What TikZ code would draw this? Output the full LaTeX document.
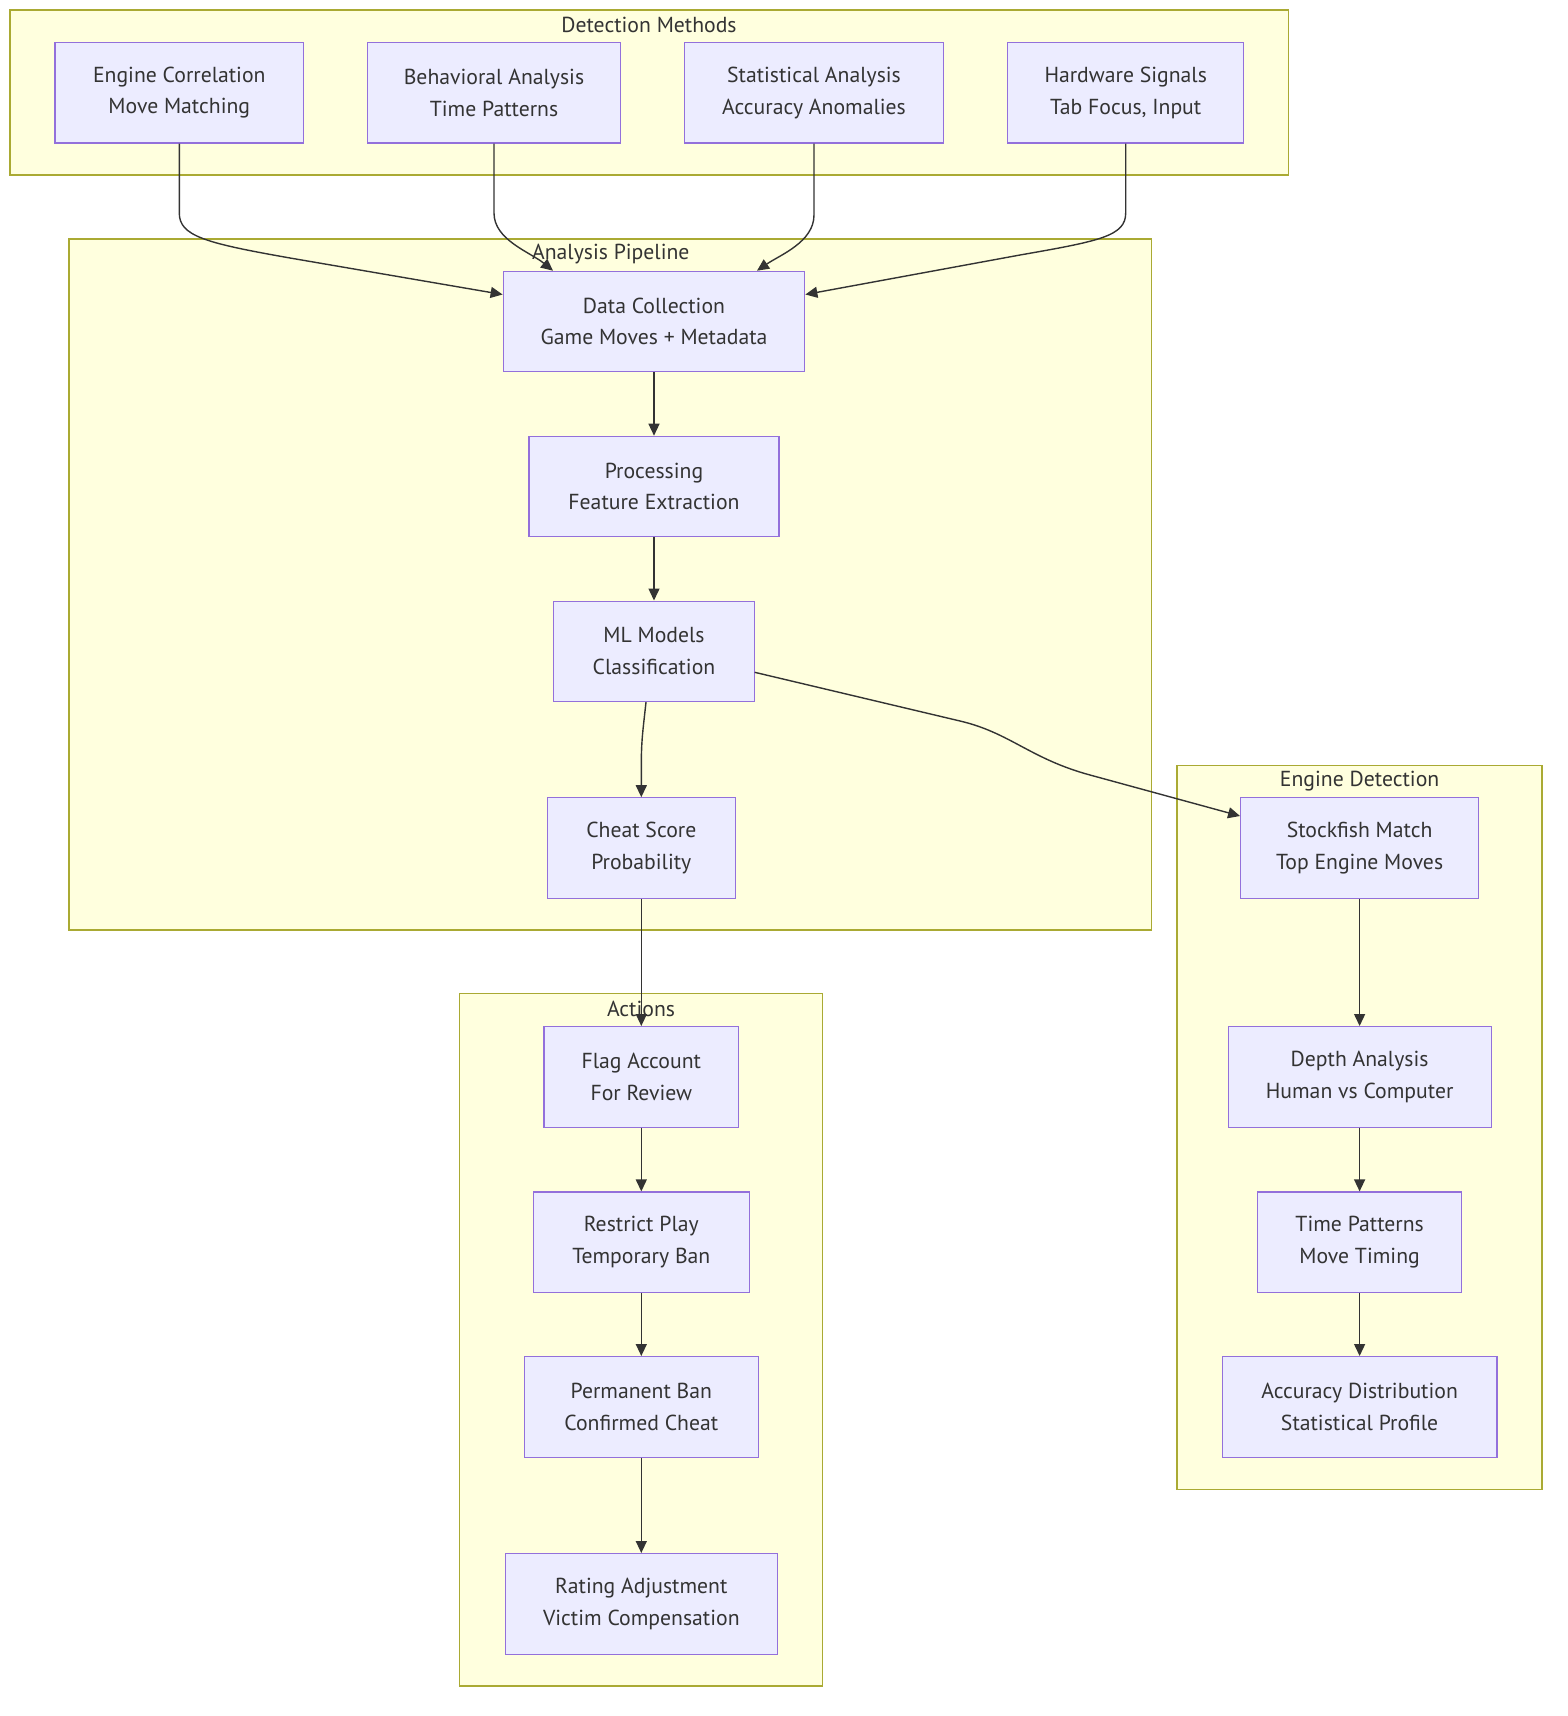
\documentclass[tikz,border=0pt]{standalone}
\usepackage{fontspec}
\setmainfont{PT Sans}
\usetikzlibrary{arrows.meta}
\definecolor{nodefill}{HTML}{ECECFF}
\definecolor{nodeline}{HTML}{9370DB}
\definecolor{clusterfill}{HTML}{FFFFDE}
\definecolor{clusterline}{HTML}{AAAA33}
\definecolor{inkcol}{HTML}{333333}
\begin{document}
\begin{tikzpicture}[x=1pt, y=-1pt,
    box/.style={draw=nodeline, fill=nodefill, line width=1.1pt, align=center, text=inkcol,
      inner sep=0pt, minimum height=100.5pt, font=\fontsize{21.7}{31.6}\selectfont},
    cluster/.style={draw=clusterline, fill=clusterfill, line width=1.2pt},
    title/.style={text=inkcol, inner sep=0pt, font=\fontsize{21.7}{31.6}\selectfont},
    edge/.style={draw=inkcol, line width=1.4pt, -{Triangle[length=12pt,width=11pt]}}]
  \useasboundingbox (0,0) rectangle (1568,1716);

  % subgraphs
  \draw[cluster] (10,10) rectangle (1288.7,175);
  \draw[cluster] (69,239) rectangle (1151.7,930);
  \draw[cluster] (1177,765.7) rectangle (1542,1489.3);
  \draw[cluster] (459.7,993.7) rectangle (822.3,1686);
  \node[title] (dettitle) at (649,25) {Detection Methods};
  \node[title] (pipetitle) at (610.8,254) {Analysis Pipeline};
  \node[title] (enginetitle) at (1359.6,781) {Engine Detection};
  \node[title] (acttitle) at (641,1009) {Actions};

  % detection methods
  \foreach \n/\x/\w/\t in {engcorr/179.3/248.7/{Engine Correlation\\Move Matching},
      behav/494/252.3/{Behavioral Analysis\\Time Patterns},
      stat/814/259.7/{Statistical Analysis\\Accuracy Anomalies},
      hw/1125.7/236/{Hardware Signals\\Tab Focus, Input}}{%
    \node[box, minimum width=\w pt] (\n) at (\x,92.7) {\t};
  }

  % pipeline
  \node[box, minimum width=301.7pt] (data) at (654,321.5) {Data Collection\\Game Moves + Metadata};
  \node[box, minimum width=250pt] (proc) at (654,486.5) {Processing\\Feature Extraction};
  \node[box, minimum width=200.3pt] (ml) at (654,651.3) {ML Models\\Classification};
  \node[box, minimum width=188pt] (score) at (641.3,848) {Cheat Score\\Probability};

  % engine detection
  \foreach \n/\y/\w/\t in {stockfish/848/238/{Stockfish Match\\Top Engine Moves},
      depth/1076.8/263/{Depth Analysis\\Human vs Computer},
      timepat/1242.2/204.6/{Time Patterns\\Move Timing},
      accdist/1406.8/274.7/{Accuracy Distribution\\Statistical Profile}}{%
    \node[box, minimum width=\w pt] (\n) at (1359.6,\y) {\t};
  }

  % actions
  \foreach \n/\y/\w/\t in {flag/1076.8/194.7/{Flag Account\\For Review},
      restrict/1242.2/215.6/{Restrict Play\\Temporary Ban},
      permban/1406.8/233.7/{Permanent Ban\\Confirmed Cheat},
      rating/1603.8/272.3/{Rating Adjustment\\Victim Compensation}}{%
    \node[box, minimum width=\w pt] (\n) at (641.3,\y) {\t};
  }

  % links
  \draw[edge] (engcorr.south) -- (179.3,213) .. controls (179.3,236) and (205,243) .. (290,258) -- ([yshift=27pt]data.west);
  \draw[edge] (behav.south) -- (494,213) .. controls (494,240) and (530,252) .. ([xshift=-101pt]data.north);
  \draw[edge] (stat.south) -- (814,215) .. controls (814,242) and (780,255) .. ([xshift=103pt]data.north);
  \draw[edge] (hw.south) -- (1125.7,213) .. controls (1125.7,236) and (1100,241) .. (1020,255) -- ([yshift=27pt]data.east);
  \draw[edge] (data) -- (proc);
  \draw[edge] (proc) -- (ml);
  \draw[edge] ([xshift=-8pt]ml.south) .. controls (643,730) and (641.3,740) .. (641.3,765) -- (score.north);
  \draw[edge] ([yshift=-21pt]ml.east) -- (960,721) .. controls (1010,732.7) and (1030,758.7) .. (1090,775) -- ([yshift=32pt]stockfish.west);
  \draw[edge] (score) -- (flag);
  \foreach \a/\b in {stockfish/depth, depth/timepat, timepat/accdist, flag/restrict, restrict/permban, permban/rating}
    \draw[edge] (\a) -- (\b);
\end{tikzpicture}
\end{document}
